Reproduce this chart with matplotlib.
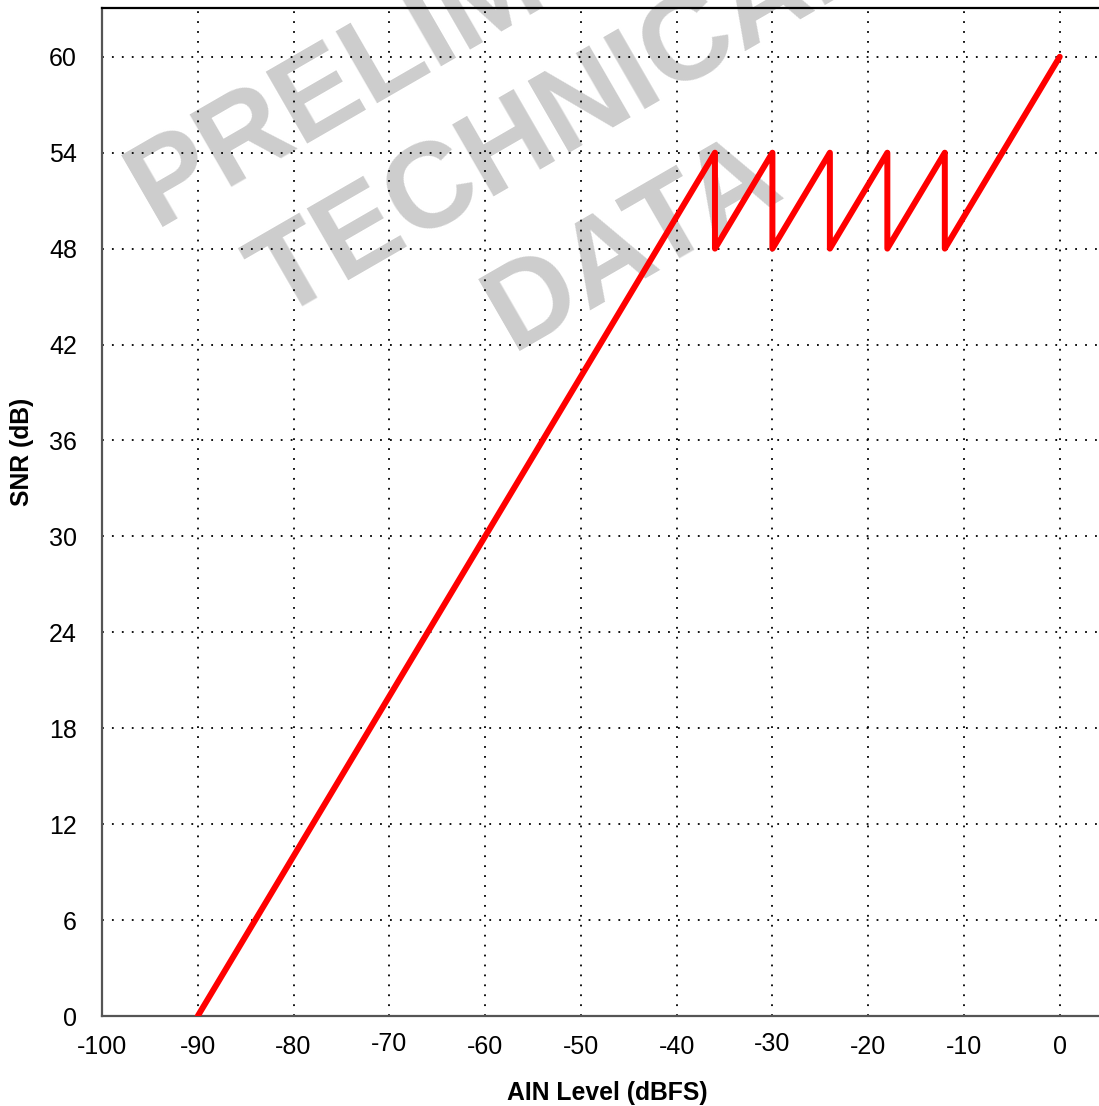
import matplotlib
matplotlib.use("Agg")
import matplotlib.pyplot as plt
from matplotlib.transforms import ScaledTranslation

# Data
ain_level = [-90, -36, -36, -30, -30, -24, -24, -18, -18, -12, -12, 0]
snr_db = [0, 54, 48, 54, 48, 54, 48, 54, 48, 54, 48, 60]
x_ticks = [-100, -90, -80, -70, -60, -50, -40, -30, -20, -10, 0]
y_ticks = [0, 6, 12, 18, 24, 30, 36, 42, 48, 54, 60]
watermark_lines = ["PRELIMINARY", "TECHNICAL", "DATA"]

plt.rcParams['font.family'] = ['Liberation Sans', 'DejaVu Sans']

W, H = 1099, 1106
fig = plt.figure(figsize=(W / 100, H / 100), dpi=100)
left, right, top, bottom = 102, 1099, 8, 1016
ax = fig.add_axes([left / W, 1 - bottom / H, (right - left) / W, (bottom - top) / H])

ax.plot(ain_level, snr_db, color='#ff0000', lw=4.3, solid_capstyle='round',
        solid_joinstyle='round', zorder=3)

ax.set_xlim(-100, 4.1)
ax.set_ylim(0, 63.05)
ax.set_xticks(x_ticks)
ax.set_yticks(y_ticks)
ax.set_xticklabels([str(v) for v in x_ticks])
ax.set_yticklabels([str(v) for v in y_ticks])
ax.tick_params(axis='both', length=0, labelsize=18)
ax.tick_params(axis='y', pad=18)
ax.tick_params(axis='x', pad=14)

ax.grid(True, color='black', linestyle=(0, (1, 4.5)), linewidth=1.3)
ax.set_axisbelow(True)

for s in ['left', 'bottom']:
    ax.spines[s].set_color('#555555')
    ax.spines[s].set_linewidth(1.6)
ax.spines['top'].set_color('black')
ax.spines['top'].set_linewidth(1.6)
ax.spines['right'].set_visible(False)

fig.text(607 / W, 1 - 1093 / H, 'AIN Level (dBFS)', ha='center', va='center',
         fontsize=17.8, fontweight='bold')
fig.text(22 / W, 1 - 452 / H, 'SNR (dB)', ha='center', va='center',
         rotation=90, fontsize=17.8, fontweight='bold')

# watermark, three rotated lines
wm_origins = [(155, 227), (278, 320), (512, 351)]
for txt, (px, py) in zip(watermark_lines, wm_origins):
    ax.text(px / W, 1 - py / H, txt, transform=fig.transFigure,
            ha='left', va='baseline', rotation=30, rotation_mode='anchor',
            fontsize=87, fontweight='bold', color='#cdcdcd', zorder=0.1,
            clip_on=False)

fig.canvas.draw()
for lab in ax.get_xticklabels():
    if lab.get_text() in ('-70', '-30'):
        lab.set_transform(lab.get_transform() +
                          ScaledTranslation(0, 3 / 100, fig.dpi_scale_trans))

fig.savefig('out.png', dpi=100)
